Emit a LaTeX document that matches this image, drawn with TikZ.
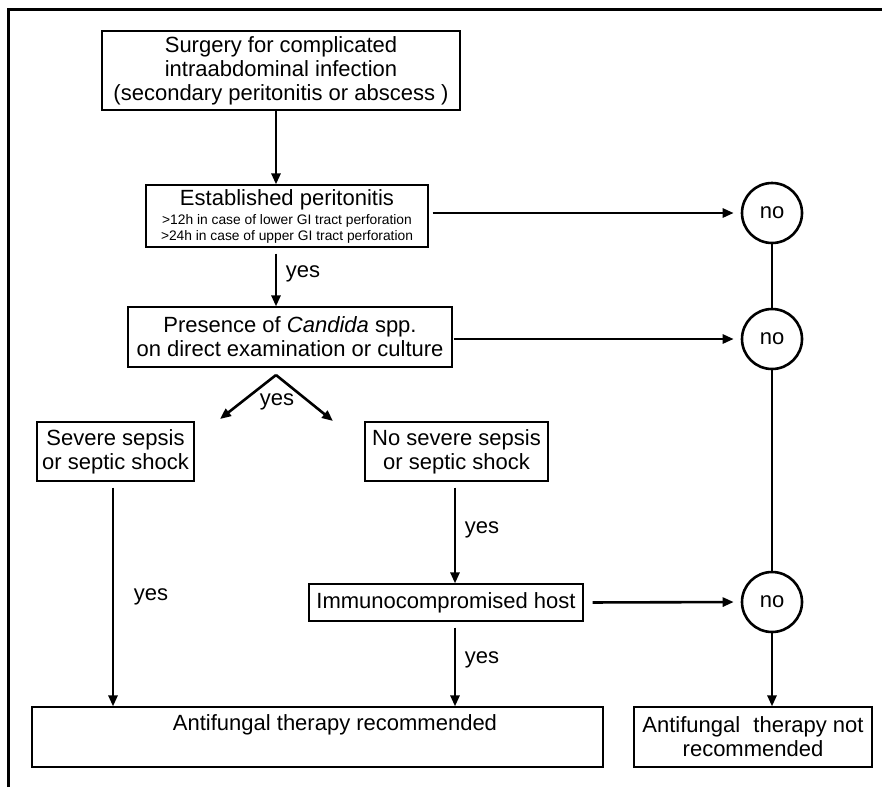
\documentclass[tikz,border=0pt]{standalone}
\usepackage{fontspec}
\setmainfont{Liberation Sans}
\usetikzlibrary{arrows.meta,calc}
\begin{document}
\begin{tikzpicture}[x=1pt,y=-1pt,
  box/.style={draw, line width=1.2pt, inner sep=0pt, align=center,
    font=\fontsize{22}{24}\selectfont},
  nocirc/.style={draw, circle, line width=2.6pt, minimum size=60pt, inner sep=0pt,
    font=\fontsize{22}{25}\selectfont},
  arr/.style={line width=2.6pt, -{Triangle[length=11pt,width=9pt]}},
  ln/.style={line width=2.6pt},
  lbl/.style={font=\fontsize{22}{25}\selectfont, inner sep=0pt}]
\useasboundingbox (0,0) rectangle (882,787);
\draw[line width=3pt] (8,787) -- (8,9) -- (882,9);

% nodes
\node[box, minimum width=358pt, minimum height=79pt] (surg) at (281,70.5)
  {Surgery for complicated\\intraabdominal infection\\(secondary peritonitis or abscess )};
\node[box, minimum width=282pt, minimum height=62pt, font=\fontsize{13.8}{16}\selectfont] (estab) at (287,216)
  {{\fontsize{22}{24}\selectfont Established peritonitis}\\[3pt]
   >12h in case of lower GI tract perforation\\
   >24h in case of upper GI tract perforation};
\node[box, minimum width=324pt, minimum height=60pt] (cand) at (290,337)
  {Presence of \textit{Candida} spp.\\on direct examination or culture};
\node[box, minimum width=157pt, minimum height=59pt] (sev) at (115.5,451.5)
  {Severe sepsis\\or septic shock};
\node[box, minimum width=183pt, minimum height=59pt] (nosev) at (456.5,451.5)
  {No severe sepsis\\or septic shock};
\node[box, minimum width=274pt, minimum height=37pt] (immuno) at (446,602.5)
  {Immunocompromised host};
\node[box, minimum width=571pt, minimum height=60pt] (rec) at (317.5,737) {};
\node[lbl] (recT) at (335,725) {Antifungal therapy recommended};
\node[box, minimum width=238pt, minimum height=60pt] (notrec) at (753,737)
  {Antifungal\hspace{0.6em}therapy not\\recommended};

\node[nocirc] (no1) at (772,213) {no};
\node[nocirc] (no2) at (772,339) {no};
\node[nocirc] (no3) at (772,602) {no};

\coordinate (apex) at (276,375);
\coordinate (tipL) at (220,419);
\coordinate (tipR) at (333,421);
\coordinate (colL) at (113,0);
\coordinate (colM) at (455,0);

% labels
\node[lbl] (y1) at (303,274) {yes};
\node[lbl] (y2) at (277,402) {yes};
\node[lbl] (y3) at (151,597) {yes};
\node[lbl] (y4) at (482,530) {yes};
\node[lbl] (y5) at (482,660) {yes};

% connectors
\draw[arr] (surg.south -| apex) -- (estab.north -| apex);
\draw[arr, shorten <=6pt] (estab.south -| apex) -- (cand.north -| apex);
\draw[arr, shorten <=4pt, shorten >=7pt] (estab.east |- no1) -- (no1.west);
\draw[arr, shorten <=1pt, shorten >=7pt] (cand.east |- no2) -- (no2.west);
\draw[ln] (no1.south) -- (no2.north);
\draw[ln] (no2.south) -- (no3.north);
\draw[arr] (apex) -- (tipL);
\draw[arr] (apex) -- (tipR);
\draw[arr, shorten <=6pt] (sev.south -| colL) -- (rec.north -| colL);
\draw[arr, shorten <=6pt] (nosev.south -| colM) -- (immuno.north -| colM);
\draw[arr, shorten <=9pt, shorten >=7pt] (immuno.east) -- (no3.west);
\draw[arr, shorten <=6pt] (immuno.south -| colM) -- (rec.north -| colM);
\draw[arr] (no3.south) -- (notrec.north -| no3);
\end{tikzpicture}
\end{document}
